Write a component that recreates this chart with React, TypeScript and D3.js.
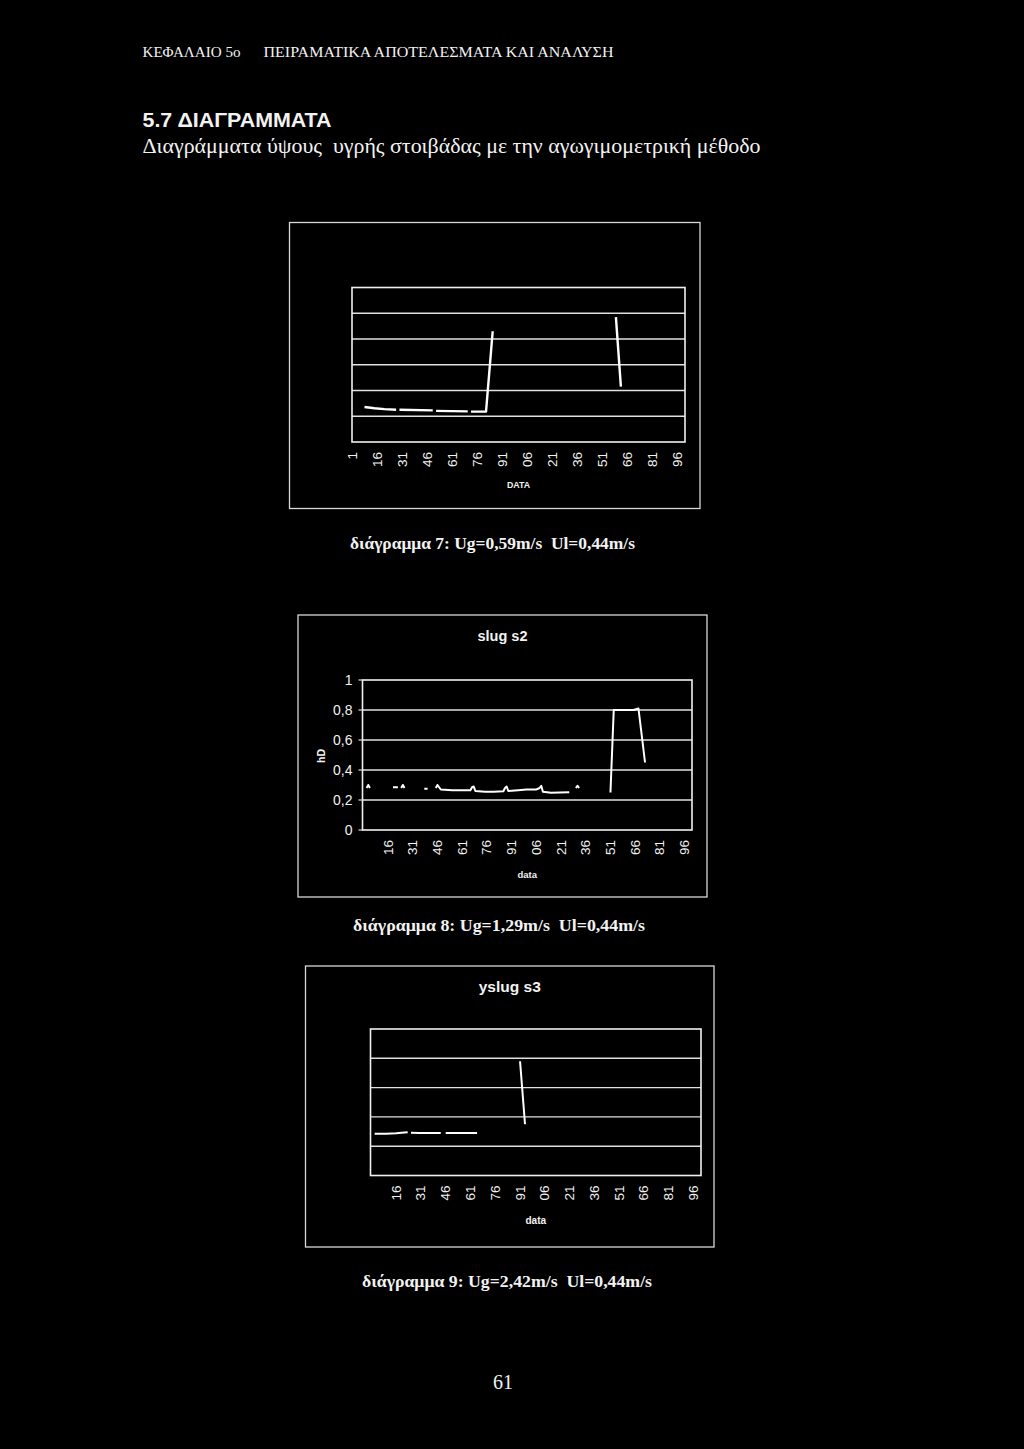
import React from "react";
import * as d3 from "d3";

// ---------- data ----------
const xTickIndex = [1, 16, 31, 46, 61, 76, 91, 106, 121, 136, 151, 166, 181, 196];
const xTickLabels = ["1", "16", "31", "46", "61", "76", "91", "06", "21", "36", "51", "66", "81", "96"];

// diagram 7 (no y labels) : null = break in the line
const d7Index = [8, 14, 20, 27, 28, 29, 49, 50, 51, 70, 71, 72, 81, 85, 86, 159, 162];
const d7Value = [0.272, 0.262, 0.255, 0.25, null, 0.25, 0.246, null, 0.242, 0.238, null, 0.236, 0.236, 0.86, null, 0.97, 0.43];

// diagram 8 : slug s2
const d8Index = [3, 4, 5, 6, 19, 22, 23, 24, 25, 26, 27, 38, 40, 41, 45, 46, 48, 55, 60, 66, 67, 68, 69, 75, 80, 86, 87, 88, 89, 95, 100, 106, 108, 109, 110, 115, 120, 126, 127, 130, 131, 132, 133, 151, 153, 160, 165, 168, 170, 172];
const d8Value = [0.28, 0.3, 0.28, null, 0.285, 0.285, null, 0.28, 0.3, 0.28, null, 0.275, 0.275, null, 0.28, 0.3, 0.27, 0.265, 0.265, 0.265, 0.285, 0.29, 0.26, 0.255, 0.255, 0.258, 0.28, 0.29, 0.26, 0.265, 0.27, 0.27, 0.28, 0.295, 0.255, 0.248, 0.25, 0.252, null, 0.28, 0.295, 0.28, null, 0.25, 0.8, 0.8, 0.8, 0.81, 0.63, 0.45];

// diagram 9 : yslug s3
const d9Index = [3, 10, 16, 21, 23, 24, 25, 30, 36, 43, 44, 46, 55, 65, 66, 91, 94];
const d9Value = [0.285, 0.285, 0.288, 0.293, 0.295, null, 0.292, 0.29, 0.29, 0.29, null, 0.29, 0.29, 0.29, null, 0.78, 0.35];

const s2YTicks = [0, 0.2, 0.4, 0.6, 0.8, 1];
const s2YLabels = ["0", "0,2", "0,4", "0,6", "0,8", "1"];

const SANS = "'Liberation Sans', Arial, sans-serif";
const SERIF = "'Liberation Serif', 'Times New Roman', serif";

type ChartProps = {
  frame: [number, number, number, number];
  plot: [number, number, number, number];
  yMax: number;
  grid: number[];
  idx: number[];
  vals: (number | null)[];
  tickStart: number;
  xTitle: string;
  xTitleY: number;
  xTitleSize: number;
  title?: string;
  titleY?: number;
  titleSize?: number;
  yLabels?: boolean;
  lineWidth: number;
  tickFont: number;
};

function Chart(p: ChartProps) {
  const [fx0, fy0, fx1, fy1] = p.frame;
  const [px0, py0, px1, py1] = p.plot;
  const x = d3.scaleLinear().domain([0.5, 200.5]).range([px0, px1]);
  const y = d3.scaleLinear().domain([0, p.yMax]).range([py1, py0]);
  const pts: [number, number | null][] = p.idx.map((d, i) => [d, p.vals[i]]);
  const line = d3
    .line<[number, number | null]>()
    .defined((d) => d[1] != null)
    .x((d) => x(d[0]))
    .y((d) => y(d[1] as number));
  const cx = (px0 + px1) / 2;
  return (
    <g>
      <rect x={fx0} y={fy0} width={fx1 - fx0} height={fy1 - fy0} fill="none" stroke="#d8d8d8" strokeWidth={1.3} />
      {p.grid.map((g) => (
        <line key={g} x1={px0} x2={px1} y1={y(g)} y2={y(g)} stroke="#e0e0e0" strokeWidth={1.4} />
      ))}
      <rect x={px0} y={py0} width={px1 - px0} height={py1 - py0} fill="none" stroke="#f0f0f0" strokeWidth={1.6} />
      <path d={line(pts) || ""} fill="none" stroke="#ffffff" strokeWidth={p.lineWidth} strokeLinejoin="round" />
      {xTickIndex.map((t, i) =>
        i < p.tickStart ? null : (
          <text
            key={t}
            transform={`translate(${x(t)},${py1 + 10}) rotate(-90)`}
            textAnchor="end"
            dominantBaseline="central"
            fill="#f2f2f2"
            fontFamily={SANS}
            fontSize={p.tickFont}
          >
            {xTickLabels[i]}
          </text>
        )
      )}
      <text x={cx} y={p.xTitleY} textAnchor="middle" fill="#f2f2f2" fontFamily={SANS} fontWeight="bold" fontSize={p.xTitleSize}>
        {p.xTitle}
      </text>
      {p.title ? (
        <text x={(fx0 + fx1) / 2} y={p.titleY} textAnchor="middle" fill="#f2f2f2" fontFamily={SANS} fontWeight="bold" fontSize={p.titleSize}>
          {p.title}
        </text>
      ) : null}
      {p.yLabels ? (
        <g>
          {s2YTicks.map((t, i) => (
            <g key={t}>
              <line x1={px0 - 4} x2={px0} y1={y(t)} y2={y(t)} stroke="#e0e0e0" strokeWidth={1.2} />
              <text x={px0 - 10} y={y(t)} textAnchor="end" dominantBaseline="central" fill="#f2f2f2" fontFamily={SANS} fontSize={14}>
                {s2YLabels[i]}
              </text>
            </g>
          ))}
          <text
            transform={`translate(${321},${756}) rotate(-90)`}
            textAnchor="middle"
            dominantBaseline="central"
            fill="#f2f2f2"
            fontFamily={SANS}
            fontWeight="bold"
            fontSize={10.5}
          >
            hD
          </text>
        </g>
      ) : null}
    </g>
  );
}

const pre: React.CSSProperties = { whiteSpace: "pre" };

export default function App() {
  return (
    <svg width={1024} height={1449} style={{ position: "absolute", left: 0, top: 0, display: "block" }}>
      <rect x={0} y={0} width={1024} height={1449} fill="#000" />
      <text x={142.5} y={57} fill="#f2f2f2" fontFamily={SERIF} fontSize={14.5} textLength={98} lengthAdjust="spacingAndGlyphs">
        ΚΕΦΑΛΑΙΟ 5ο
      </text>
      <text x={263.5} y={57} fill="#f2f2f2" fontFamily={SERIF} fontSize={14.5} textLength={350} lengthAdjust="spacingAndGlyphs">
        ΠΕΙΡΑΜΑΤΙΚΑ ΑΠΟΤΕΛΕΣΜΑΤΑ ΚΑΙ ΑΝΑΛΥΣΗ
      </text>
      <text x={142.5} y={127} fill="#f2f2f2" fontFamily={SANS} fontWeight="bold" fontSize={21} textLength={189} lengthAdjust="spacingAndGlyphs">
        5.7 ΔΙΑΓΡΑΜΜΑΤΑ
      </text>
      <text x={142.5} y={153} style={pre} fill="#f2f2f2" fontFamily={SERIF} fontSize={21} textLength={618} lengthAdjust="spacingAndGlyphs">
        {"Διαγράμματα ύψους  υγρής στοιβάδας με την αγωγιμομετρική μέθοδο"}
      </text>

      <Chart
        frame={[289.5, 222.5, 700, 508.5]}
        plot={[352, 287.5, 685, 442]}
        yMax={1.2}
        grid={[0.2, 0.4, 0.6, 0.8, 1.0]}
        idx={d7Index}
        vals={d7Value}
        tickStart={0}
        xTitle="DATA"
        xTitleY={488}
        xTitleSize={8.8}
        lineWidth={2.4}
        tickFont={13.5}
      />
      <text x={492.5} y={549} style={pre} textAnchor="middle" fill="#f2f2f2" fontFamily={SERIF} fontWeight="bold" fontSize={16.5} textLength={285} lengthAdjust="spacingAndGlyphs">
        {"διάγραμμα 7: Ug=0,59m/s  Ul=0,44m/s"}
      </text>

      <Chart
        frame={[298, 615, 707, 897]}
        plot={[362.5, 680, 692, 830]}
        yMax={1}
        grid={[0.2, 0.4, 0.6, 0.8]}
        idx={d8Index}
        vals={d8Value}
        tickStart={1}
        xTitle="data"
        xTitleY={878}
        xTitleSize={9.5}
        title="slug s2"
        titleY={641}
        titleSize={14.5}
        yLabels={true}
        lineWidth={2}
        tickFont={13.5}
      />
      <text x={499} y={931} style={pre} textAnchor="middle" fill="#f2f2f2" fontFamily={SERIF} fontWeight="bold" fontSize={16.5} textLength={292} lengthAdjust="spacingAndGlyphs">
        {"διάγραμμα 8: Ug=1,29m/s  Ul=0,44m/s"}
      </text>

      <Chart
        frame={[305.5, 966, 714, 1247]}
        plot={[370.5, 1029, 701, 1175.5]}
        yMax={1}
        grid={[0.2, 0.4, 0.6, 0.8]}
        idx={d9Index}
        vals={d9Value}
        tickStart={1}
        xTitle="data"
        xTitleY={1224}
        xTitleSize={10}
        title="yslug s3"
        titleY={992}
        titleSize={15.5}
        lineWidth={2}
        tickFont={13.5}
      />
      <text x={507} y={1287} style={pre} textAnchor="middle" fill="#f2f2f2" fontFamily={SERIF} fontWeight="bold" fontSize={16.5} textLength={290} lengthAdjust="spacingAndGlyphs">
        {"διάγραμμα 9: Ug=2,42m/s  Ul=0,44m/s"}
      </text>

      <text x={503} y={1389} textAnchor="middle" fill="#f2f2f2" fontFamily={SERIF} fontSize={20}>
        61
      </text>
    </svg>
  );
}
